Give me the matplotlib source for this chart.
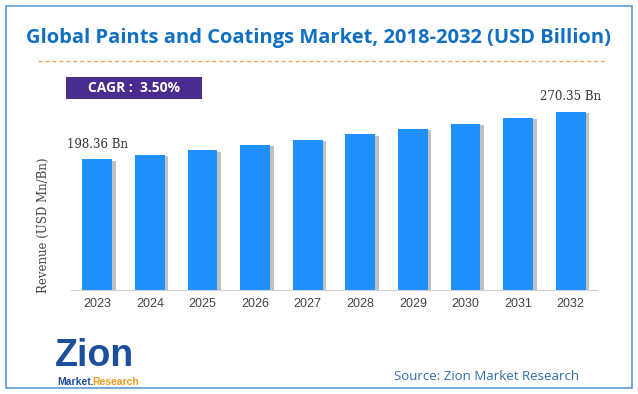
import matplotlib.pyplot as plt
import matplotlib.patheffects as pe
from matplotlib.patches import Rectangle
from matplotlib.lines import Line2D

years = ['2023', '2024', '2025', '2026', '2027', '2028', '2029', '2030', '2031', '2032']
revenue = [198.36, 205.0, 212.0, 220.0, 228.0, 236.0, 244.0, 252.0, 261.0, 270.35]
first_label = '198.36 Bn'
last_label = '270.35 Bn'

W, H = 638, 394
fig = plt.figure(figsize=(W / 100, H / 100), dpi=100)

def px(x, y):
    # pixel coords (top-left origin) -> figure fraction
    return x / W, 1 - y / H

# outer border
fig.add_artist(Rectangle(px(6, 388), 626 / W, 382 / H, transform=fig.transFigure,
                         fill=False, edgecolor='#5B9BD5', linewidth=1.2))

# title
fig.text(*px(318, 38), 'Global Paints and Coatings Market, 2018-2032 (USD Billion)',
         ha='center', va='center', fontsize=14.5, fontweight='bold',
         color='#1170C4', family='Open Sans')

# dashed orange rule
x0, y0 = px(38, 61)
x1, _ = px(604, 61)
fig.add_artist(Line2D([x0, x1], [y0, y0], transform=fig.transFigure,
                      color='#F4A460', linewidth=1, linestyle=(0, (3, 2))))

# CAGR box
fig.add_artist(Rectangle(px(66, 99), 136 / W, 22 / H, transform=fig.transFigure,
                         facecolor='#4A2C91', edgecolor='none'))
fig.text(*px(134, 88), 'CAGR :  3.50%', ha='center', va='center', fontsize=10,
         fontweight='bold', color='white', family='Open Sans')

# bars
left, bottom = px(71, 290)
ax = fig.add_axes([left, bottom, (597 - 71) / W, (290 - 100) / H])
xs = range(len(years))
ax.bar(xs, revenue, width=0.57, color='#1E90FF',
       path_effects=[pe.SimplePatchShadow(offset=(2.5, -1), shadow_rgbFace='#666666', alpha=0.4),
                     pe.Normal()])
ax.set_xlim(-0.5, len(years) - 0.5)
ax.set_ylim(0, 288)
ax.set_xticks(list(xs))
ax.set_xticklabels(years, fontsize=9, color='#444444', family='Liberation Sans')
ax.tick_params(axis='x', length=0, pad=6)
ax.set_yticks([])
for s in ['top', 'right', 'left']:
    ax.spines[s].set_visible(False)
ax.spines['bottom'].set_color('#D0D0D0')

ax.annotate(first_label, (0, revenue[0]), xytext=(0, 6), textcoords='offset points',
            ha='center', va='bottom', fontsize=8.5, color='#333333', family='DejaVu Serif')
ax.annotate(last_label, (len(years) - 1, revenue[-1]), xytext=(0, 6), textcoords='offset points',
            ha='center', va='bottom', fontsize=8.5, color='#333333', family='DejaVu Serif')

fig.text(*px(43, 225), 'Revenue (USD Mn/Bn)', rotation=90, ha='center', va='center',
         fontsize=8.5, color='#444444', family='DejaVu Serif')

# logo
fig.text(*px(55, 356), 'Zion', ha='left', va='center', fontsize=27, fontweight='bold',
         color='#1B4F9C', family='Liberation Sans')
fig.text(*px(57, 382), 'Market.', ha='left', va='center', fontsize=7.5, fontweight='bold',
         color='#1B4F9C', family='Liberation Sans')
fig.text(*px(92, 382), 'Research', ha='left', va='center', fontsize=7.5, fontweight='bold',
         color='#F39A1E', family='Liberation Sans')

fig.text(*px(487, 377), 'Source: Zion Market Research', ha='center', va='center',
         fontsize=9.5, color='#2E6DB4', family='Open Sans')

fig.savefig('out.png', dpi=100)
